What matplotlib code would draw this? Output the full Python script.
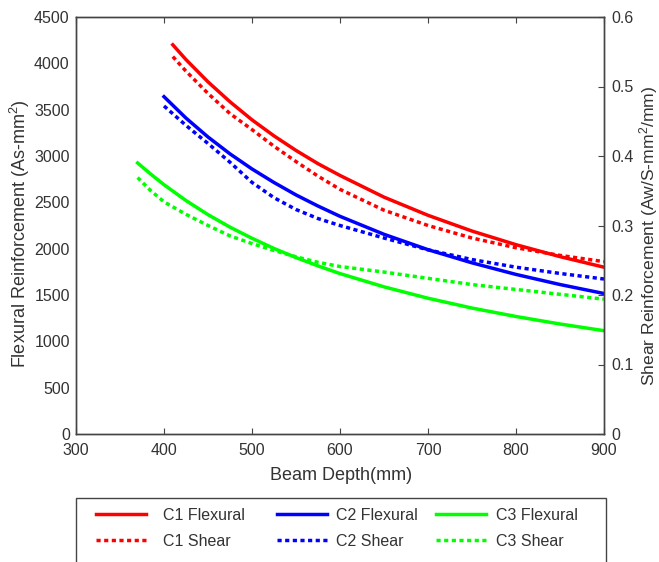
import matplotlib
matplotlib.use("Agg")
import matplotlib.pyplot as plt
from matplotlib.lines import Line2D
from matplotlib.patches import Rectangle

plt.rcParams["font.family"] = ["Liberation Sans", "DejaVu Sans"]
plt.rcParams["mathtext.fontset"] = "custom"
plt.rcParams["mathtext.rm"] = "Liberation Sans"
plt.rcParams["mathtext.default"] = "regular"

# Beam depth (mm) sample points
depth_c1 = [410, 425, 450, 475, 500, 525, 550, 575, 600, 650, 700, 750, 800, 850, 900]
depth_c2 = [400, 425, 450, 475, 500, 525, 550, 575, 600, 650, 700, 750, 800, 850, 900]
depth_c3 = [370, 385, 400, 425, 450, 475, 500, 525, 550, 575, 600, 650, 700, 750, 800, 850, 900]

# Flexural reinforcement As (mm^2), left axis
flex_c1 = [4200, 4040, 3800, 3585, 3390, 3217, 3060, 2917, 2790, 2556, 2360, 2190, 2043, 1914, 1800]
flex_c2 = [3640, 3409, 3205, 3023, 2860, 2714, 2580, 2460, 2349, 2155, 1989, 1847, 1722, 1613, 1516]
flex_c3 = [2925, 2804, 2690, 2519, 2367, 2232, 2112, 2002, 1904, 1814, 1731, 1588, 1465, 1359, 1268, 1187, 1115]

# Shear reinforcement Aw/S (mm^2/mm), right axis
shear_c1 = [0.543, 0.522, 0.490, 0.461, 0.438, 0.414, 0.392, 0.371, 0.352, 0.322, 0.300, 0.282, 0.268, 0.257, 0.248]
shear_c2 = [0.472, 0.444, 0.418, 0.391, 0.362, 0.340, 0.323, 0.310, 0.300, 0.282, 0.265, 0.251, 0.240, 0.231, 0.223]
shear_c3 = [0.369, 0.350, 0.334, 0.316, 0.300, 0.285, 0.274, 0.264, 0.255, 0.247, 0.241, 0.233, 0.224, 0.215, 0.208, 0.201, 0.194]

xticks = [300, 400, 500, 600, 700, 800, 900]
left_ticks = [0, 500, 1000, 1500, 2000, 2500, 3000, 3500, 4000, 4500]
right_ticks = [0, 0.1, 0.2, 0.3, 0.4, 0.5, 0.6]

RED, BLUE, GREEN = "#ff0000", "#0000ff", "#00ff00"
TXT = "#333333"
EDGE = "#444444"
LW = 2.5
DOT = (0, (1.2, 1.0))
W, H = 659, 562

fig = plt.figure(figsize=(W/100, H/100), dpi=100)
ax = fig.add_axes([76/W, 1-434/H, 528/W, 417/H])
ax2 = ax.twinx()

ax.plot(depth_c1, flex_c1, color=RED, lw=LW)
ax.plot(depth_c2, flex_c2, color=BLUE, lw=LW)
ax.plot(depth_c3, flex_c3, color=GREEN, lw=LW)
ax2.plot(depth_c1, shear_c1, color=RED, lw=LW, ls=DOT)
ax2.plot(depth_c2, shear_c2, color=BLUE, lw=LW, ls=DOT)
ax2.plot(depth_c3, shear_c3, color=GREEN, lw=LW, ls=DOT)

ax.set_xlim(300, 900)
ax.set_ylim(0, 4500)
ax2.set_ylim(0, 0.6)
ax.set_xticks(xticks)
ax.set_yticks(left_ticks)
ax2.set_yticks(right_ticks)
ax2.set_yticklabels([f"{t:g}" for t in right_ticks])

for a in (ax, ax2):
    for s in a.spines.values():
        s.set_color(EDGE)
        s.set_linewidth(1.0)

ax.tick_params(axis="x", direction="in", top=True, length=4, pad=6.5,
               labelsize=11.5, colors=EDGE, labelcolor=TXT)
ax.tick_params(axis="y", length=0, pad=4.5, labelsize=11.5, labelcolor=TXT)
ax2.tick_params(axis="y", direction="in", length=4, pad=5.5, labelsize=11.5,
                colors=EDGE, labelcolor=TXT)

# axis titles placed in figure pixels
fig.text(341/W, 1-475/H, "Beam Depth(mm)", fontsize=13, color=TXT,
         ha="center", va="center")
fig.text(20/W, 1-234/H, "Flexural Reinforcement (As-mm$^{2}$)", fontsize=13,
         color=TXT, rotation=90, ha="center", va="center")
fig.text(649/W, 1-236/H, "Shear Reinforcement (Aw/S-mm$^{2}$/mm)", fontsize=12.6,
         color=TXT, rotation=90, ha="center", va="center")

# legend frame, running off the bottom edge like the reference
fig.patches.append(Rectangle((76/W, -0.05), 530/W, 0.05 + 1-498/H,
                             transform=fig.transFigure, fill=False,
                             edgecolor=EDGE, lw=1.0))

groups = [
    (RED, "C1", 96, 1.1),
    (BLUE, "C2", 277, 0.62),
    (GREEN, "C3", 436, 0.68),
]
for color, name, x0, tpad in groups:
    hs = [Line2D([], [], color=color, lw=LW), Line2D([], [], color=color, lw=LW, ls=DOT)]
    fig.legend(hs, [f"{name} Flexural", f"{name} Shear"], loc="upper left",
               bbox_to_anchor=(x0/W, 1-508/H), borderaxespad=0, borderpad=0,
               frameon=False, fontsize=11.5, handlelength=3.1,
               handletextpad=tpad, labelspacing=0.68, labelcolor=TXT)

fig.savefig("out.png", dpi=100)
